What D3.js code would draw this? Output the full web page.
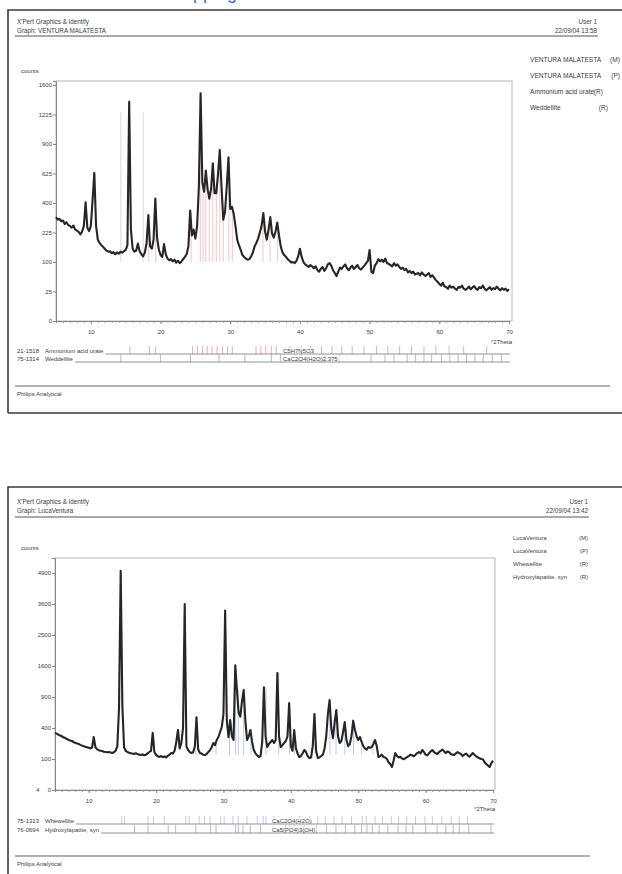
<!DOCTYPE html>
<html><head><meta charset="utf-8">
<script src="https://cdn.jsdelivr.net/npm/d3@7/dist/d3.min.js"></script>
<style>
body{margin:0;background:#fff;overflow:hidden}
svg{display:block}
text{font-family:"Liberation Sans",Arial,sans-serif}
</style>
</head><body>
<svg id="c" width="622" height="874"></svg>
<script>
// ---------- DATA ----------
const thetaStart = 5, thetaStep = 0.25;   // scan step (°2Theta)
const xTicks = [10, 20, 30, 40, 50, 60, 70];

// Scan 1 : VENTURA MALATESTA (counts)
const countsVentura = [
 310,295,300,285, 290,270,280,265, 260,250,262,240, 235,228,215,230, 260,405,250,232,
 260,420,630,260, 190,175,165,158, 150,142,138,140, 132,136,128,135, 130,138,134,140,
 145,165,1380,240, 150,138,142,172, 140,128,120,135, 175,322,160,150, 190,430,200,148,
 125,118,170,128, 112,106,110,102, 108,98,104,96, 102,110,118,128, 160,350,210,240,
 195,260,520,1490, 550,480,650,500, 430,500,715,470, 470,620,840,520, 295,340,520,770,
 360,375,330,260, 190,165,145,125, 118,112,108,110, 120,135,160,175, 195,225,260,335,
 230,190,240,310, 220,200,230,278, 210,160,135,125, 118,110,104,98, 100,96,104,120,
 150,118,100,92, 88,84,90,86, 80,86,75,70, 78,84,72,80, 92,96,88,74,
 66,58,70,82, 78,86,92,80, 74,82,88,78, 84,90,80,76, 82,88,96,104,
 145,70,66,88, 96,110,102,108, 100,112,96,94, 90,86,96,88, 92,84,78,82,
 74,78,68,72, 66,70,62,64, 66,60,68,62, 58,62,66,56, 60,54,48,44,
 40,36,42,34, 33,30,36,32, 34,30,28,33, 32,36,30,28, 30,34,29,32,
 35,30,28,33, 31,36,30,27, 30,33,28,31, 29,34,30,27, 31,28,30,26,
 29
];
const yTicksVentura = [0, 25, 100, 225, 400, 625, 900, 1225, 1600];

// Scan 2 : LucaVentura (counts)
const countsLuca = [
 340,330,318,310, 300,290,282,270, 262,255,250,240, 232,225,222,212, 205,200,195,190,
 185,180,188,292, 190,172,165,160, 158,152,150,148, 150,146,142,148, 160,200,700,5000,
 720,190,160,150, 145,140,138,135, 140,134,130,128, 132,126,130,140, 150,160,340,150,
 128,118,114,120, 112,118,110,122, 130,142,138,160, 240,375,180,230, 400,3600,200,166,
 150,142,148,200, 550,170,142,138, 130,127,135,150, 165,190,230,210, 260,292,350,413,
 600,3350,500,292, 510,300,260,1620, 1040,620,560,820, 1040,500,260,300, 375,240,166,140,
 125,113,120,240, 1100,300,192,220, 240,260,230,260, 1425,300,192,210, 230,250,300,787,
 200,160,375,180, 140,113,120,140, 166,150,120,106, 110,200,600,160, 106,110,120,130,
 180,300,600,843, 400,280,480,666, 300,230,250,350, 481,260,200,220, 300,500,380,300,
 260,292,240,200, 180,170,192,185, 192,220,260,200, 113,120,130,113, 110,100,80,70,
 55,90,142,120, 110,115,104,98, 105,112,120,130, 125,118,130,142, 150,140,166,150,
 130,125,140,155, 166,150,140,135, 150,160,170,155, 142,155,148,135, 130,128,140,150,
 142,135,120,130, 138,125,115,128, 142,130,118,110, 105,100,98,80, 70,62,55,75,
 90
];
const yTicksLuca = [0, 100, 400, 900, 1600, 2500, 3600, 4900];

// Reference patterns (stick positions, °2Theta)
const ammoniumUrateSticks = [11.7,15.6,18.4,19.3,24.6,25.3,26.0,26.7,27.4,28.1,28.9,29.6,30.3,33.7,34.4,35.1,35.9,36.6,38.6,40.2,41.5,43.1,44.6,46.0,47.5,49.2,51.0,52.6,54.3,56.0,57.8,59.5,61.4,63.5,66.8];
const weddelliteSticks = [14.3,20.0,24.3,28.4,32.1,35.9,37.2,40.2,43.6,45.6,50.2,52.2,53.5,55.4,56.6,57.8,58.9,60.3,61.5,62.7,63.9,65.1,66.3,67.6,68.9];
const whewelliteSticks = [14.9,15.3,18.8,19.6,21.2,24.4,24.9,26.4,27.2,28.0,29.6,30.1,31.4,32.2,33.5,35.0,35.9,36.3,37.5,38.2,40.1,41.3,42.8,44.0,45.1,46.4,47.6,49.0,50.6,51.2,52.5,53.6,54.9,56.0,57.2,58.5,59.9,61.0,62.4,63.8,65.0,66.2];
const hydroxylapatiteSticks = [10.8,16.8,18.8,21.8,22.9,25.9,28.1,28.9,31.8,32.2,32.9,34.0,35.5,39.2,39.8,40.5,42.0,43.8,45.3,46.7,48.1,49.5,50.5,51.3,52.1,53.1,54.4,55.9,57.1,58.1,60.0,61.7,63.0,64.1,65.0,66.4,69.7];

// Sticks shown inside the plots: [°2Theta, top counts]
const plotSticksVenturaRed = [[18.3,322],[19.3,430],[24.4,350],[25.7,1490],[26.1,550],[26.5,650],[27.0,430],[27.5,715],[28.0,470],[28.5,840],[29.0,295],[29.8,770],[30.3,375],[34.7,335],[35.7,310],[36.8,278]];
const plotSticksVenturaGray = [[14.3,1250],[17.5,1250]];
const stickBaseVentura = 100;
const plotSticksLucaBlue = [[25.9,550],[28.9,230],[30.9,510],[31.8,1620],[32.2,1040],[33.0,1040],[34.1,375],[36.3,1100],[38.2,1425],[39.8,787],[40.5,375],[43.6,600],[45.8,843],[46.7,666],[48.0,481],[49.3,500],[50.5,292],[52.2,260]];
const stickBaseLuca = 130;

// ---------- DRAWING ----------
const svg = d3.select("#c");
const INK = "#3d3d3d";

// cut-off blue text from the page above
svg.append("text").attr("x", 168).attr("y", -1).attr("font-size", 18)
  .style("fill", "#2f6fc0").text("Mapping");

function txt(g, x, y, s, size, anchor) {
  return g.append("text").attr("x", x).attr("y", y).attr("font-size", size || 5.8)
    .attr("text-anchor", anchor || "start").style("fill", INK).text(s);
}

function panel(cfg) {
  const g = svg.append("g");
  g.append("path")
    .attr("d", `M${cfg.box.x},${cfg.box.bottom} V${cfg.box.y} H700 M${cfg.box.x},${cfg.box.bottom} H700`)
    .attr("fill", "none").attr("stroke", "#3a3a3a").attr("stroke-width", 1.6);

  txt(g, 17, cfg.head1, "X'Pert Graphics & Identify", 6.3);
  txt(g, 17, cfg.head2, cfg.graphName, 6.3);
  txt(g, cfg.headRight, cfg.head1, "User 1", 6.3, "end");
  txt(g, cfg.headRight, cfg.head2, cfg.date, 6.3, "end");
  g.append("line").attr("x1", 15).attr("x2", cfg.headRight + 1).attr("y1", cfg.headLine).attr("y2", cfg.headLine)
    .attr("stroke", "#555").attr("stroke-width", 1);

  const x = d3.scaleLinear().domain([5, 70]).range([cfg.plot.left, cfg.plot.right]);
  const y = d3.scaleSqrt().domain([0, cfg.yMax]).range([cfg.plot.bottom, cfg.plot.top]);

  g.append("rect").attr("x", cfg.plot.left).attr("y", cfg.plot.top)
    .attr("width", cfg.plot.frameRight - cfg.plot.left).attr("height", cfg.plot.bottom - cfg.plot.top)
    .attr("fill", "none").attr("stroke", "#b8b8b8").attr("stroke-width", 1);

  const yAxis = d3.axisLeft(y).tickValues(cfg.yTicks).tickSize(3).tickPadding(1).tickFormat(d3.format("d"));
  const ya = g.append("g").attr("transform", `translate(${cfg.plot.left},0)`).call(yAxis);
  ya.select(".domain").attr("stroke", "#888");
  ya.selectAll(".tick line").attr("stroke", "#888");
  ya.selectAll("text").attr("font-size", 6).style("fill", INK);

  const xMinor = d3.axisBottom(x).tickValues(d3.range(6, 70, 1)).tickSize(2).tickFormat("");
  const xm = g.append("g").attr("transform", `translate(0,${cfg.plot.bottom})`).call(xMinor);
  xm.select(".domain").attr("stroke", "#888");
  xm.selectAll(".tick line").attr("stroke", "#999");
  const xAxis = d3.axisBottom(x).tickValues(xTicks).tickSize(3).tickPadding(cfg.xPad).tickFormat(d3.format("d"));
  const xa = g.append("g").attr("transform", `translate(0,${cfg.plot.bottom})`).call(xAxis);
  xa.select(".domain").remove();
  xa.selectAll(".tick line").attr("stroke", "#888");
  xa.selectAll("text").attr("font-size", 6).style("fill", INK);

  txt(g, cfg.plot.frameRight, cfg.thetaLabelY, "°2Theta", 6, "end");
  txt(g, 21, cfg.countsY, "counts", 6);
  if (cfg.extraZero) txt(g, 36, cfg.plot.bottom + 2, "4", 6);

  cfg.plotSticks.forEach(s => {
    g.append("g").selectAll("line").data(s.data).join("line")
      .attr("x1", d => x(d[0])).attr("x2", d => x(d[0]))
      .attr("y1", y(s.base)).attr("y2", d => y(d[1]))
      .attr("stroke", s.color).attr("stroke-width", 0.8);
  });

  const line = d3.line().x((d, i) => x(thetaStart + i * thetaStep)).y(d => y(d));
  g.append("path").datum(cfg.counts).attr("d", line)
    .attr("fill", "none").attr("stroke", "#262626").attr("stroke-width", 2.1).attr("stroke-linejoin", "round");

  cfg.legend.forEach((L, i) => {
    txt(g, cfg.legendX, cfg.legendY[i], L[0], cfg.legendSize);
    if (L[1]) txt(g, L[2] || cfg.legendRight, cfg.legendY[i], L[1], cfg.legendSize, "end");
  });

  cfg.refRows.forEach((r, i) => {
    const yb = cfg.refY[i];
    const top = yb - cfg.refH;
    txt(g, 17, yb - 1.5, r.code, 6);
    const nameT = txt(g, 45, yb - 1.5, r.name, 6);
    const nameEnd = 45 + nameT.node().getComputedTextLength() + 2;
    g.append("g").selectAll("line").data(r.sticks.filter(t => x(t) > nameEnd)).join("line")
      .attr("x1", d => x(d)).attr("x2", d => x(d)).attr("y1", top).attr("y2", yb)
      .attr("stroke", r.color).attr("stroke-width", 0.8);
    g.append("line").attr("x1", nameEnd).attr("x2", cfg.plot.right + 1).attr("y1", yb).attr("y2", yb)
      .attr("stroke", "#777").attr("stroke-width", 0.8);
    const ft = txt(g, cfg.formulaX, yb - 1.5, r.formula, 6);
    const bb = ft.node().getBBox();
    g.insert("rect", () => ft.node()).attr("x", bb.x - 1).attr("y", bb.y).attr("width", bb.width + 2).attr("height", bb.height - 1)
      .attr("fill", "#fff");
  });

  g.append("line").attr("x1", 15).attr("x2", cfg.footRight).attr("y1", cfg.footLine).attr("y2", cfg.footLine)
    .attr("stroke", "#666").attr("stroke-width", 1.2);
  txt(g, 17, cfg.footLine + 10, "Philips Analytical", 6);
}

panel({
  box: {x: 8, y: 10, bottom: 413},
  head1: 24, head2: 33, headLine: 36, headRight: 597,
  graphName: "Graph: VENTURA MALATESTA", date: "22/09/04 13:58",
  plot: {left: 56, right: 509, frameRight: 512, top: 81, bottom: 321},
  yMax: 1655, yTicks: yTicksVentura, xPad: 6,
  thetaLabelY: 344, countsY: 73,
  counts: countsVentura,
  plotSticks: [
    {data: plotSticksVenturaGray, base: stickBaseVentura, color: "#cfcfcf"},
    {data: plotSticksVenturaRed, base: stickBaseVentura, color: "#efb7b7"}
  ],
  legendX: 530, legendRight: 620, legendSize: 6.6, legendY: [62, 78, 94, 110],
  legend: [["VENTURA MALATESTA", "(M)", 620], ["VENTURA MALATESTA", "(P)", 620], ["Ammonium acid urate", "(R)", 603], ["Weddellite", "(R)", 608]],
  refY: [354, 362], refH: 8, formulaX: 283,
  refRows: [
    {code: "21-1518", name: "Ammonium acid urate", formula: "C5H7N5O3", sticks: ammoniumUrateSticks, color: "#e59a9a"},
    {code: "75-1314", name: "Weddellite", formula: "CaC2O4(H2O)2.375", sticks: weddelliteSticks, color: "#a9a9a9"}
  ],
  footLine: 386, footRight: 610
});

panel({
  box: {x: 8, y: 487, bottom: 900},
  head1: 504, head2: 513, headLine: 517, headRight: 588,
  graphName: "Graph: LucaVentura", date: "22/09/04 13:42",
  plot: {left: 55, right: 493, frameRight: 495, top: 558, bottom: 790},
  yMax: 5600, yTicks: yTicksLuca, xPad: 6, extraZero: true,
  thetaLabelY: 811, countsY: 550,
  counts: countsLuca,
  plotSticks: [
    {data: plotSticksLucaBlue, base: stickBaseLuca, color: "#b0b9ea"}
  ],
  legendX: 513, legendRight: 588, legendSize: 6, legendY: [540, 553, 566, 579],
  legend: [["LucaVentura", "(M)"], ["LucaVentura", "(P)"], ["Whewellite", "(R)"], ["Hydroxylapatite, syn", "(R)"]],
  refY: [824, 833], refH: 8, formulaX: 272,
  refRows: [
    {code: "75-1313", name: "Whewellite", formula: "CaC2O4(H2O)", sticks: whewelliteSticks, color: "#b3bdf0"},
    {code: "76-0694", name: "Hydroxylapatite, syn", formula: "Ca5(PO4)3(OH)", sticks: hydroxylapatiteSticks, color: "#a9a9a9"}
  ],
  footLine: 856, footRight: 590
});
</script>
</body></html>
